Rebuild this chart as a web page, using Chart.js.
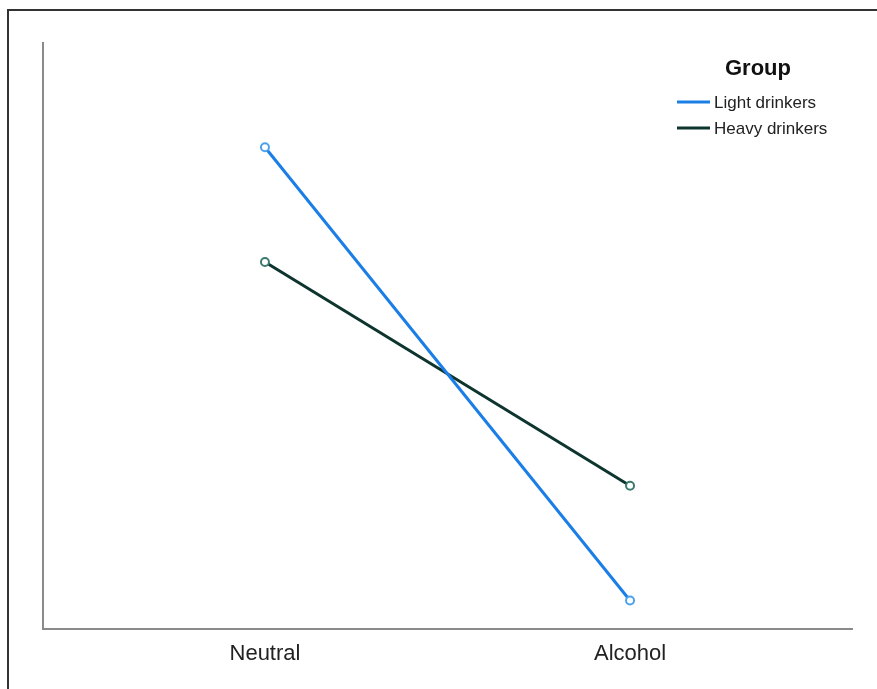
<!DOCTYPE html>
<html>
<head>
<meta charset="utf-8">
<script src="https://cdn.jsdelivr.net/npm/chart.js@4.4.0/dist/chart.umd.min.js"></script>
<style>
  body { margin: 0; background: #fff; }
  #wrap { position: relative; width: 877px; height: 689px; }
  #frame { position: absolute; left: 7px; top: 9px; right: 0; bottom: 0; border-top: 2px solid #333; border-left: 2px solid #333; }
  canvas { position: absolute; left: 0; top: 0; }
</style>
</head>
<body>
<div id="wrap">
  <div id="frame"></div>
  <canvas id="myChart" width="877" height="689"></canvas>
</div>
<script>
// data (y axis has no ticks, so arbitrary 0-100 units)
var categories = ['Neutral', 'Alcohol'];
var groupNames = ['Light drinkers', 'Heavy drinkers'];
var lightValues = [82.2, 4.8];
var heavyValues = [62.6, 24.4];

var lineColors = ['#1a7ee6', '#0d352e'];
var pointColors = ['#4aa2ee', '#3c7a70'];

function toPoints(values) {
    return values.map(function(v, i) { return { x: i, y: v }; });
}

// legend drawn by hand at the top right like the original
var groupLegend = {
    id: 'groupLegend',
    afterDraw: function(chart) {
        var c = chart.ctx;
        c.save();
        c.fillStyle = '#111';
        c.font = 'bold 22px "Liberation Sans", Arial, sans-serif';
        c.textAlign = 'center';
        c.textBaseline = 'middle';
        c.fillText('Group', 758, 69);
        c.font = '17px "Liberation Sans", Arial, sans-serif';
        c.textAlign = 'left';
        chart.data.datasets.forEach(function(ds, i) {
            var y = 102 + i * 26;
            c.strokeStyle = ds.borderColor;
            c.lineWidth = 3;
            c.beginPath();
            c.moveTo(677, y);
            c.lineTo(710, y);
            c.stroke();
            c.fillStyle = '#222';
            c.fillText(ds.label, 714, y + 1);
        });
        c.restore();
    }
};

var ctx = document.getElementById('myChart').getContext('2d');
var chart = new Chart(ctx, {
    type: 'line',
    data: {
        datasets: [{
            label: groupNames[0],
            data: toPoints(lightValues),
            borderColor: lineColors[0],
            borderWidth: 3,
            pointRadius: 4,
            pointBorderWidth: 2,
            pointBorderColor: pointColors[0],
            pointBackgroundColor: '#fff'
        }, {
            label: groupNames[1],
            data: toPoints(heavyValues),
            borderColor: lineColors[1],
            borderWidth: 3,
            pointRadius: 4,
            pointBorderWidth: 2,
            pointBorderColor: pointColors[1],
            pointBackgroundColor: '#fff'
        }]
    },
    options: {
        responsive: false,
        animation: false,
        layout: { padding: { left: 43, right: 25, top: 43, bottom: 10 } },
        plugins: {
            legend: { display: false },
            tooltip: { enabled: false }
        },
        scales: {
            x: {
                type: 'linear',
                min: -0.608,
                max: 1.608,
                afterBuildTicks: function(scale) {
                    scale.ticks = categories.map(function(c, i) { return { value: i }; });
                },
                ticks: {
                    padding: 12,
                    color: '#222',
                    font: { family: '"Liberation Sans", Arial, sans-serif', size: 22 },
                    callback: function(value) { return categories[value]; }
                },
                grid: { display: false, drawTicks: false },
                border: { display: true, color: '#8a8a8a', width: 2 }
            },
            y: {
                min: 0,
                max: 100,
                ticks: { display: false },
                grid: { display: false, drawTicks: false },
                border: { display: true, color: '#8a8a8a', width: 2 }
            }
        }
    },
    plugins: [groupLegend]
});
</script>
</body>
</html>
